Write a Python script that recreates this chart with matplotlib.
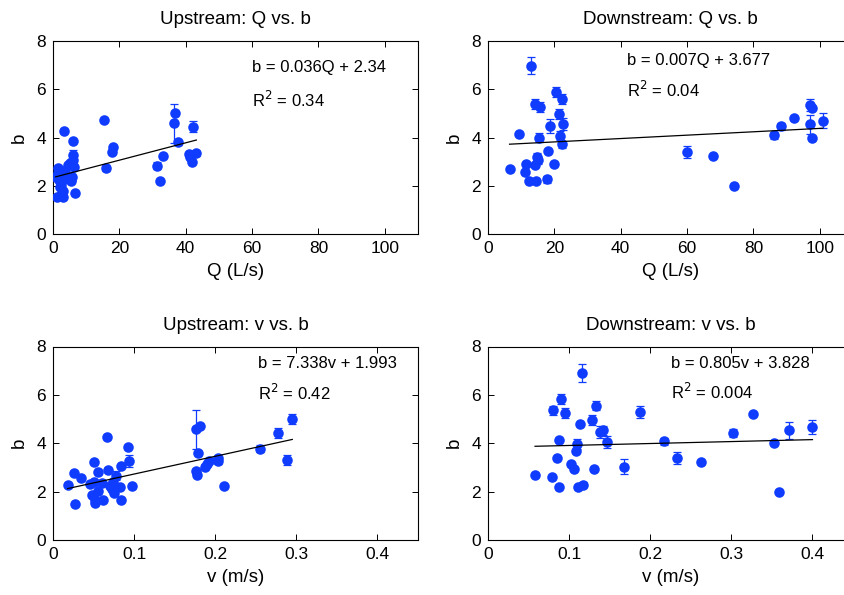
import numpy as np
import matplotlib
matplotlib.use("Agg")
import matplotlib.pyplot as plt

plt.rcParams["font.family"] = ["Liberation Sans", "DejaVu Sans"]

# --- Upstream: Q vs. b ---
up_q = [0.8, 1.2, 1.4, 1.6, 1.9, 2.2, 2.4, 2.5, 2.6, 2.9, 2.9, 3.0, 3.2, 3.4,
        3.7, 4.4, 5.0, 5.4, 5.6, 5.8, 5.9, 6.0, 6.1, 6.3, 6.5, 15.5, 16.0,
        17.7, 18.2, 31.3, 32.1, 33.3, 36.4, 36.7, 37.7, 40.9, 41.4, 41.9,
        42.2, 43.2]
up_q_b = [2.38, 1.55, 2.51, 2.72, 2.25, 1.95, 1.61, 2.05, 2.45, 1.52, 2.60,
          1.80, 2.30, 4.28, 2.58, 2.86, 2.93, 2.20, 3.00, 2.35, 3.87, 3.27,
          3.07, 2.79, 1.69, 4.72, 2.72, 3.41, 3.62, 2.83, 2.21, 3.23, 4.59,
          5.03, 3.80, 3.31, 3.20, 3.00, 4.45, 3.34]
up_q_err = [0, 0, 0, 0, 0, 0, 0, 0, 0, 0, 0, 0, 0, 0, 0, 0, 0, 0, 0, 0.15,
            0, 0.2, 0, 0, 0, 0, 0.12, 0, 0, 0.15, 0, 0, 0.8, 0, 0.1, 0, 0,
            0.1, 0.22, 0.1]

# --- Downstream: Q vs. b ---
dn_q = [6.5, 9.3, 11.4, 11.2, 12.4, 12.9, 14.6, 14.3, 15.6, 15.3, 14.9, 15.1,
        14.1, 18.1, 18.8, 17.9, 19.8, 20.6, 22.3, 21.5, 22.7, 21.7, 22.2,
        60.1, 67.8, 74.0, 86.1, 88.2, 92.3, 97.0, 97.7, 97.0, 97.6, 100.9]
dn_q_b = [2.70, 4.15, 2.91, 2.58, 2.19, 6.98, 2.19, 5.38, 5.27, 4.00, 3.19,
          3.05, 2.88, 3.43, 4.48, 2.26, 2.91, 5.88, 5.59, 4.97, 4.55, 4.08,
          3.72, 3.40, 3.23, 1.98, 4.09, 4.47, 4.81, 5.34, 5.23, 4.54, 3.99,
          4.70]
dn_q_err = [0, 0, 0, 0, 0, 0.35, 0, 0.2, 0.2, 0.2, 0.15, 0.15, 0, 0, 0.3,
            0.15, 0, 0.2, 0.2, 0.2, 0.25, 0.2, 0.15, 0.25, 0, 0, 0.15, 0.15,
            0, 0.25, 0, 0.4, 0, 0.3]

# --- Upstream: v vs. b ---
up_v = [0.018, 0.026, 0.027, 0.034, 0.046, 0.050, 0.048, 0.052, 0.052, 0.051,
        0.055, 0.055, 0.060, 0.062, 0.066, 0.068, 0.070, 0.074, 0.073, 0.075,
        0.078, 0.082, 0.084, 0.084, 0.092, 0.094, 0.098, 0.176, 0.177, 0.176,
        0.181, 0.179, 0.188, 0.190, 0.192, 0.203, 0.204, 0.211, 0.255, 0.277,
        0.289, 0.295]
up_v_b = [2.29, 2.75, 1.49, 2.56, 2.33, 3.22, 1.88, 1.67, 1.51, 2.41, 2.82,
          2.04, 2.36, 1.66, 4.27, 2.89, 2.25, 2.38, 2.11, 1.93, 2.66, 2.19,
          1.67, 3.07, 3.85, 3.26, 2.22, 2.84, 2.70, 4.58, 4.71, 3.59, 3.03,
          3.14, 3.27, 3.41, 3.25, 2.22, 3.78, 4.42, 3.30, 4.99]
up_v_err = [0, 0, 0, 0, 0, 0, 0, 0, 0, 0, 0, 0, 0, 0, 0, 0, 0, 0, 0, 0, 0.2,
            0, 0, 0, 0, 0.25, 0, 0.1, 0.1, 0.8, 0, 0, 0.1, 0, 0, 0, 0.1, 0,
            0.15, 0.2, 0.2, 0.2]

# --- Downstream: v vs. b ---
dn_v = [0.058, 0.079, 0.080, 0.087, 0.085, 0.087, 0.090, 0.095, 0.102, 0.106,
        0.110, 0.109, 0.113, 0.116, 0.111, 0.117, 0.128, 0.131, 0.133, 0.138,
        0.142, 0.147, 0.168, 0.188, 0.217, 0.233, 0.263, 0.302, 0.327, 0.352,
        0.359, 0.371, 0.400]
dn_v_b = [2.70, 2.60, 5.36, 2.21, 3.41, 4.14, 5.84, 5.26, 3.16, 2.92, 3.97,
          3.70, 4.79, 6.90, 2.21, 2.29, 4.95, 2.92, 5.56, 4.47, 4.53, 4.07,
          3.03, 5.30, 4.08, 3.40, 3.22, 4.42, 5.21, 3.99, 2.00, 4.53, 4.68]
dn_v_err = [0, 0, 0.2, 0, 0, 0, 0.2, 0.2, 0, 0, 0.2, 0, 0, 0.38, 0, 0.1, 0.2,
            0, 0.2, 0.25, 0.2, 0.25, 0.3, 0.25, 0.15, 0.25, 0, 0.15, 0, 0, 0,
            0.35, 0.3]

# ajustes como impressos no grafico: (inclinacao, intercepto, eq, r2)
fits = {
    "uq": (0.036, 2.34, "b = 0.036Q + 2.34", "R$^2$ = 0.34"),
    "dq": (0.007, 3.677, "b = 0.007Q + 3.677", "R$^2$ = 0.04"),
    "uv": (7.338, 1.993, "b = 7.338v + 1.993", "R$^2$ = 0.42"),
    "dv": (0.805, 3.828, "b = 0.805v + 3.828", "R$^2$ = 0.004"),
}

q_ticks = [0, 20, 40, 60, 80, 100]
v_ticks = [0, 0.1, 0.2, 0.3, 0.4]
v_tick_labels = ["0", "0.1", "0.2", "0.3", "0.4"]
b_ticks = [0, 2, 4, 6, 8]

BLUE = "#0f3cff"
FS = 12.5

fig = plt.figure(figsize=(8.44, 5.95), dpi=100)
W, H = 844, 595


def make_ax(x0, ytop, ybot, xright):
    return fig.add_axes([x0 / W, (H - ybot) / H, (xright - x0) / W, (ybot - ytop) / H])


panels = [
    (make_ax(53, 41, 234, 418), up_q, up_q_b, up_q_err, "uq",
     "Upstream: Q vs. b", "Q (L/s)", (60, 6.9, 5.55)),
    (make_ax(488, 41, 234, 853), dn_q, dn_q_b, dn_q_err, "dq",
     "Downstream: Q vs. b", "Q (L/s)", (42, 7.2, 5.96)),
    (make_ax(53, 346.5, 540, 418), up_v, up_v_b, up_v_err, "uv",
     "Upstream: v vs. b", "v (m/s)", (0.253, 7.3, 6.07)),
    (make_ax(488, 346.5, 540, 853), dn_v, dn_v_b, dn_v_err, "dv",
     "Downstream: v vs. b", "v (m/s)", (0.226, 7.3, 6.13)),
]

for ax, x, y, e, key, title, xlab, (tx, ty1, ty2) in panels:
    x = np.array(x); y = np.array(y); e = np.array(e)
    has = e > 0
    ax.errorbar(x[has], y[has], yerr=e[has], fmt="none", ecolor=BLUE,
                elinewidth=0.9, capsize=3, capthick=0.9, zorder=2)
    ax.plot(x, y, "o", color=BLUE, markersize=7.6, markeredgewidth=0, zorder=3)
    m, c, eq, r2 = fits[key]
    xx = np.array([x.min(), x.max()])
    ax.plot(xx, m * xx + c, color="black", lw=0.9, zorder=4)
    ax.text(tx, ty1, eq, fontsize=FS - 0.5, va="center", ha="left")
    ax.text(tx, ty2, r2, fontsize=FS - 0.5, va="center", ha="left")
    if key.endswith("q"):
        ax.set_xlim(0, 110)
        ax.set_xticks(q_ticks)
    else:
        ax.set_xlim(0, 0.45)
        ax.set_xticks(v_ticks)
        ax.set_xticklabels(v_tick_labels)
    ax.set_ylim(0, 8)
    ax.set_yticks(b_ticks)
    ax.set_title(title, fontsize=FS + 1, pad=12)
    ax.set_xlabel(xlab, fontsize=FS + 1, labelpad=5)
    ax.set_ylabel("b", fontsize=FS + 1, labelpad=6)
    ax.tick_params(direction="in", top=True, right=True, length=4,
                   width=0.7, labelsize=FS, pad=5)
    for s in ax.spines.values():
        s.set_linewidth(0.8)

fig.savefig("out.png", dpi=100)
